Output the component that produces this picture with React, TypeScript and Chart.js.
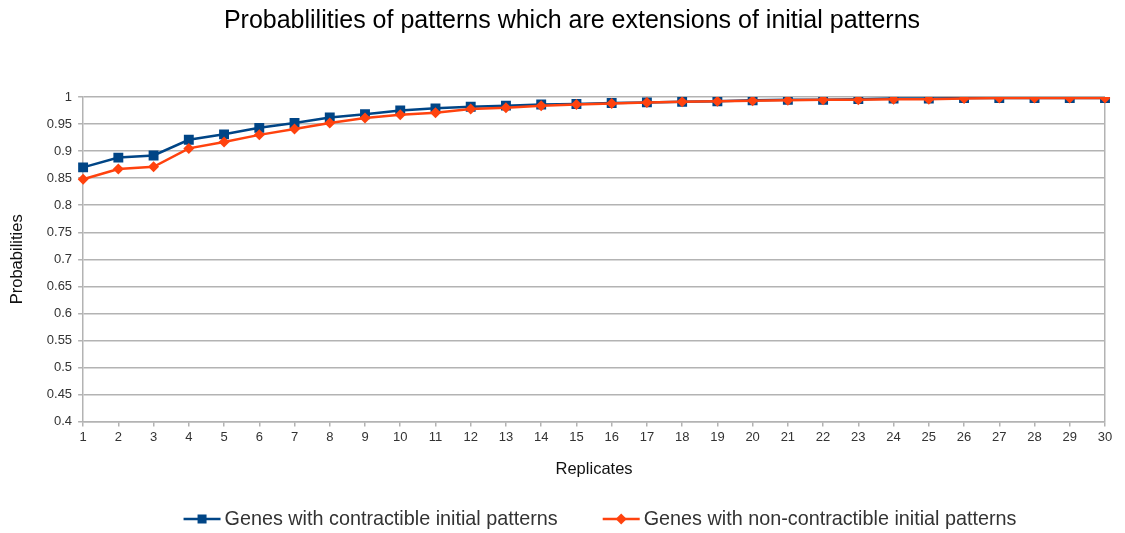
import React, { useEffect, useRef } from "react";
import { Chart, registerables } from "chart.js";

Chart.register(...registerables);

const TITLE = "Probablilities of patterns which are extensions of initial patterns";
const X_TITLE = "Replicates";
const Y_TITLE = "Probabilities";

const replicates = [
  "1", "2", "3", "4", "5", "6", "7", "8", "9", "10",
  "11", "12", "13", "14", "15", "16", "17", "18", "19", "20",
  "21", "22", "23", "24", "25", "26", "27", "28", "29", "30",
];

const contractible = [
  0.870, 0.888, 0.892, 0.921, 0.931, 0.943, 0.952, 0.962, 0.968, 0.975,
  0.979, 0.982, 0.984, 0.986, 0.987, 0.989, 0.990, 0.991, 0.992, 0.994,
  0.995, 0.995, 0.996, 0.997, 0.997, 0.998, 0.998, 0.998, 0.998, 0.998,
];

const nonContractible = [
  0.848, 0.867, 0.871, 0.905, 0.917, 0.930, 0.941, 0.952, 0.961, 0.967,
  0.971, 0.978, 0.980, 0.984, 0.986, 0.988, 0.990, 0.991, 0.992, 0.993,
  0.994, 0.995, 0.995, 0.996, 0.996, 0.997, 0.998, 0.998, 0.998, 0.998,
];

const BLUE = "#004586";
const ORANGE = "#ff420e";
const GRID = "#b3b3b3";
const FONT = "'Liberation Sans', Arial, sans-serif";

// Title and legend drawn as canvas text by a small plugin (for precise placement)
const titleLegendPlugin = {
  id: "titleLegend",
  afterDraw(chart: any) {
    const ctx = chart.ctx as CanvasRenderingContext2D;
    ctx.save();
    // Title
    ctx.font = `25px ${FONT}`;
    ctx.fillStyle = "#000";
    ctx.textAlign = "center";
    ctx.textBaseline = "middle";
    ctx.fillText(TITLE, 572, 21);

    // Legend
    const items = chart.data.datasets.map((ds: any) => ({
      label: ds.label as string,
      color: ds.borderColor as string,
      shape: ds.pointStyle as string,
    }));
    ctx.font = `19.8px ${FONT}`;
    const lineW = 37;
    const gap = 4;
    const spacing = 45;
    const widths = items.map((it: any) => lineW + gap + ctx.measureText(it.label).width);
    const total = widths.reduce((a: number, b: number) => a + b, 0) + spacing * (items.length - 1);
    let x = 600 - total / 2;
    const y = 519;
    items.forEach((it: any, i: number) => {
      ctx.strokeStyle = it.color;
      ctx.fillStyle = it.color;
      ctx.lineWidth = 2.5;
      ctx.beginPath();
      ctx.moveTo(x, y);
      ctx.lineTo(x + lineW, y);
      ctx.stroke();
      const cx = x + lineW / 2;
      if (it.shape === "rect") {
        ctx.fillRect(cx - 4.5, y - 4.5, 9, 9);
      } else {
        ctx.beginPath();
        ctx.moveTo(cx, y - 5.5);
        ctx.lineTo(cx + 5.5, y);
        ctx.lineTo(cx, y + 5.5);
        ctx.lineTo(cx - 5.5, y);
        ctx.closePath();
        ctx.fill();
      }
      ctx.fillStyle = "#333";
      ctx.textAlign = "left";
      ctx.textBaseline = "middle";
      ctx.fillText(it.label, x + lineW + gap, y + 1);
      x += widths[i] + spacing;
    });
    ctx.restore();
  },
};

export default function App() {
  const canvasRef = useRef<HTMLCanvasElement | null>(null);

  useEffect(() => {
    document.body.style.margin = "0";
    const canvas = canvasRef.current;
    if (!canvas) return;

    const chart = new Chart(canvas, {
      type: "line",
      data: {
        labels: replicates,
        datasets: [
          {
            label: "Genes with contractible initial patterns",
            data: contractible,
            borderColor: BLUE,
            backgroundColor: BLUE,
            borderWidth: 2.5,
            pointStyle: "rect",
            pointRadius: 7,
            pointBorderWidth: 0,
            tension: 0,
            order: 2,
          },
          {
            label: "Genes with non-contractible initial patterns",
            data: nonContractible,
            borderColor: ORANGE,
            backgroundColor: ORANGE,
            borderWidth: 2.5,
            pointStyle: "rectRot",
            pointRadius: 5.5,
            pointBorderWidth: 0,
            tension: 0,
            order: 1,
          },
        ],
      },
      plugins: [titleLegendPlugin],
      options: {
        responsive: false,
        animation: false,
        layout: { padding: { left: 8, right: 20, top: 97, bottom: 54 } },
        plugins: {
          title: { display: false },
          legend: { display: false },
          tooltip: { enabled: false },
        },
        scales: {
          x: {
            type: "category",
            offset: false,
            title: {
              display: true,
              text: X_TITLE,
              color: "#111",
              font: { family: FONT, size: 16.5 },
              padding: { top: 11, bottom: 0 },
            },
            ticks: {
              color: "#333",
              font: { family: FONT, size: 13 },
              maxRotation: 0,
              autoSkip: false,
              padding: 3,
            },
            grid: {
              color: (c: any) => (c.index === replicates.length - 1 ? GRID : "rgba(0,0,0,0)"),
              tickColor: GRID,
              tickLength: 5,
              lineWidth: 1.5,
            },
            border: { color: GRID, width: 1.5 },
          },
          y: {
            min: 0.4,
            max: 1,
            title: {
              display: true,
              text: Y_TITLE,
              color: "#111",
              font: { family: FONT, size: 16.5 },
              padding: { top: 0, bottom: 13 },
            },
            ticks: {
              stepSize: 0.05,
              color: "#333",
              font: { family: FONT, size: 13 },
              padding: 6,
              callback: (v: any) => String(Number(Number(v).toFixed(2))),
            },
            grid: {
              color: GRID,
              tickColor: GRID,
              tickLength: 5,
              lineWidth: 1.5,
            },
            border: { color: GRID, width: 1.5 },
          },
        },
      },
    });
    return () => chart.destroy();
  }, []);

  return (
    <div style={{ width: 1125, height: 533, background: "#fff" }}>
      <canvas ref={canvasRef} width={1125} height={533} style={{ display: "block" }} />
    </div>
  );
}
